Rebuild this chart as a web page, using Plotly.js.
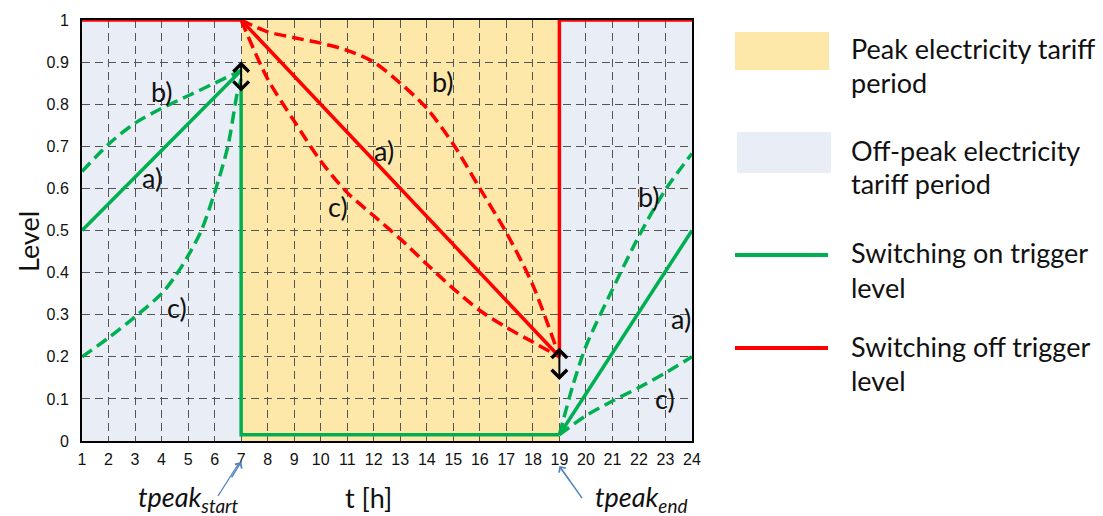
<!DOCTYPE html>
<html>
<head>
<meta charset="utf-8">
<script src="https://cdn.plot.ly/plotly-3.0.1.min.js"></script>
<style>html,body{margin:0;padding:0;background:#fff;}#chart{width:1103px;height:516px;}</style>
</head>
<body>
<div id="chart"></div>
<script>
// ---- tariff periods ----
const dayStart = 1, dayEnd = 24;
const peakStart = 7, peakEnd = 19;

// ---- switching ON trigger level (green) ----
const onA_x = [1, 7];
const onA_y = [0.50, 0.88];
const onB_x = [1, 2, 3, 4, 5, 6, 7];
const onB_y = [0.64, 0.705, 0.755, 0.79, 0.82, 0.85, 0.88];
const onC_x = [1, 2, 3, 4, 4.5, 5, 5.5, 6, 6.5, 6.85, 7];
const onC_y = [0.20, 0.245, 0.295, 0.35, 0.39, 0.44, 0.50, 0.59, 0.70, 0.825, 0.86];
const onStep_x = [7, 7, 19];
const onStep_y = [0.84, 0.015, 0.015];
const onAr_x = [19, 24];
const onAr_y = [0.015, 0.50];
const onBr_x = [19, 19.5, 20, 21, 22, 23, 24];
const onBr_y = [0.015, 0.13, 0.225, 0.36, 0.487, 0.597, 0.683];
const onCr_x = [19, 20, 21, 22, 23, 24];
const onCr_y = [0.015, 0.06, 0.095, 0.127, 0.162, 0.20];

// ---- switching OFF trigger level (red) ----
const offTop_x = [1, 7];
const offTop_y = [1, 1];
const offA_x = [7, 19];
const offA_y = [1, 0.20];
const offB_x = [7, 8, 9, 10, 11, 12, 13, 14, 15, 16, 17, 18, 19];
const offB_y = [1, 0.972, 0.958, 0.945, 0.928, 0.90, 0.85, 0.79, 0.705, 0.60, 0.495, 0.37, 0.20];
const offC_x = [7, 8, 9, 10, 11, 12, 13, 14, 15, 16, 17, 18, 19];
const offC_y = [1, 0.86, 0.76, 0.665, 0.59, 0.535, 0.48, 0.42, 0.362, 0.31, 0.27, 0.235, 0.20];
const offStep_x = [19, 19, 24];
const offStep_y = [0.20, 1, 1];

// ---- ticks ----
const xTicks = [1,2,3,4,5,6,7,8,9,10,11,12,13,14,15,16,17,18,19,20,21,22,23,24];
const yTicks = [0,0.1,0.2,0.3,0.4,0.5,0.6,0.7,0.8,0.9,1];
const yTickText = ['0','0.1','0.2','0.3','0.4','0.5','0.6','0.7','0.8','0.9','1'];

// ---- curve labels ----
const labelText = ['b)','a)','c)','b)','a)','c)','b)','a)','c)'];
const labelX = [4.03, 3.65, 4.6, 14.63, 12.37, 10.67, 22.36, 23.57, 23.0];
const labelY = [0.829, 0.625, 0.316, 0.853, 0.691, 0.556, 0.58, 0.292, 0.102];

const GREEN = '#00B050', RED = '#FF0000';
const YELLOW = '#FDE8AA', BLUE = '#E8EDF6';
const LW = 3.5;
const DASH = '12px,6px';

function tr(x, y, color, dash, spline) {
  return {x: x, y: y, type: 'scatter', mode: 'lines', hoverinfo: 'skip', showlegend: false,
    cliponaxis: false,
    line: {color: color, width: LW, dash: dash || 'solid', shape: spline ? 'spline' : 'linear', smoothing: 0.8}};
}

const data = [
  tr(onB_x, onB_y, GREEN, DASH, true),
  tr(onC_x, onC_y, GREEN, DASH, true),
  tr(onA_x, onA_y, GREEN),
  tr(onStep_x, onStep_y, GREEN),
  tr(onBr_x, onBr_y, GREEN, DASH, true),
  tr(onCr_x, onCr_y, GREEN, DASH, true),
  tr(onAr_x, onAr_y, GREEN),
  tr(offB_x, offB_y, RED, DASH, true),
  tr(offC_x, offC_y, RED, DASH, true),
  tr(offA_x, offA_y, RED),
  tr(offTop_x, offTop_y, RED),
  tr(offStep_x, offStep_y, RED)
];

// plot area in pixels: left 82, right 692, top 20, bottom 441
const PL = 82, PR = 692, PT = 20, PB = 441;
const px2x = p => (p - PL) / (PR - PL);
const px2y = p => (PB - p) / (PB - PT);

const shapes = [
  {type: 'rect', xref: 'x', yref: 'y', x0: dayStart, x1: peakStart, y0: 0, y1: 1, fillcolor: BLUE, line: {width: 0}, layer: 'below'},
  {type: 'rect', xref: 'x', yref: 'y', x0: peakStart, x1: peakEnd, y0: 0, y1: 1, fillcolor: YELLOW, line: {width: 0}, layer: 'below'},
  {type: 'rect', xref: 'x', yref: 'y', x0: peakEnd, x1: dayEnd, y0: 0, y1: 1, fillcolor: BLUE, line: {width: 0}, layer: 'below'},
  // legend swatches
  {type: 'rect', xref: 'paper', yref: 'paper', x0: px2x(735), x1: px2x(829), y0: px2y(70), y1: px2y(32), fillcolor: YELLOW, line: {width: 0}},
  {type: 'rect', xref: 'paper', yref: 'paper', x0: px2x(737), x1: px2x(831), y0: px2y(173), y1: px2y(132), fillcolor: BLUE, line: {width: 0}},
  {type: 'line', xref: 'paper', yref: 'paper', x0: px2x(735), x1: px2x(828), y0: px2y(255), y1: px2y(255), line: {color: GREEN, width: 4}},
  {type: 'line', xref: 'paper', yref: 'paper', x0: px2x(735), x1: px2x(828), y0: px2y(348), y1: px2y(348), line: {color: RED, width: 4}},
  // blue pointer shafts to tpeak labels
  {type: 'line', xref: 'paper', yref: 'paper', x0: px2x(218), y0: px2y(496), x1: px2x(239), y1: px2y(463), line: {color: '#4F81BD', width: 1.3}},
  {type: 'line', xref: 'paper', yref: 'paper', x0: px2x(582), y0: px2y(498), x1: px2x(560), y1: px2y(467), line: {color: '#4F81BD', width: 1.3}}
];

const FONT = 'Lato, "Open Sans", sans-serif';
const annotations = [];
for (let i = 0; i < labelText.length; i++) {
  annotations.push({x: labelX[i], y: labelY[i], xref: 'x', yref: 'y', text: labelText[i], showarrow: false,
    font: {family: FONT, size: 27, color: '#111'}});
}
const legendLines = [
  ['Peak electricity tariff', 48], ['period', 82],
  ['Off-peak electricity', 150], ['tariff period', 184],
  ['Switching on trigger', 252], ['level', 287],
  ['Switching off trigger', 346], ['level', 380]
];
legendLines.forEach(l => annotations.push({xref: 'paper', yref: 'paper', x: px2x(849), y: px2y(l[1]),
  xanchor: 'left', yanchor: 'middle', text: l[0], showarrow: false, font: {family: FONT, size: 27, color: '#111'}}));

// double-headed black arrows
annotations.push({xref: 'x', yref: 'y', axref: 'x', ayref: 'y', x: peakStart, y: 0.83, ax: peakStart, ay: 0.925,
  text: ' ', showarrow: true, arrowside: 'end+start', arrowhead: 4, startarrowhead: 4, arrowsize: 1.5, startarrowsize: 1.5, arrowwidth: 2, arrowcolor: '#000'});
annotations.push({xref: 'x', yref: 'y', axref: 'x', ayref: 'y', x: peakEnd, y: 0.145, ax: peakEnd, ay: 0.245,
  text: ' ', showarrow: true, arrowside: 'end+start', arrowhead: 4, startarrowhead: 4, arrowsize: 1.5, startarrowsize: 1.5, arrowwidth: 2, arrowcolor: '#000'});

// blue arrow heads at tpeak ticks
annotations.push({xref: 'x', yref: 'paper', x: peakStart, y: px2y(462), ax: -13, ay: 21, text: ' ', showarrow: true,
  arrowhead: 4, arrowsize: 1.2, arrowwidth: 1.3, arrowcolor: '#4F81BD'});
annotations.push({xref: 'x', yref: 'paper', x: peakEnd, y: px2y(466), ax: 14, ay: 20, text: ' ', showarrow: true,
  arrowhead: 4, arrowsize: 1.2, arrowwidth: 1.3, arrowcolor: '#4F81BD'});

annotations.push({xref: 'paper', yref: 'paper', x: px2x(136), y: px2y(498), xanchor: 'left', yanchor: 'middle',
  text: '<i>tpeak<sub>start</sub></i>', showarrow: false, font: {family: FONT, size: 27, color: '#111'}});
annotations.push({xref: 'paper', yref: 'paper', x: px2x(593), y: px2y(498), xanchor: 'left', yanchor: 'middle',
  text: '<i>tpeak<sub>end</sub></i>', showarrow: false, font: {family: FONT, size: 27, color: '#111'}});
annotations.push({xref: 'paper', yref: 'paper', x: px2x(368), y: px2y(497), xanchor: 'center', yanchor: 'middle',
  text: 't [h]', showarrow: false, font: {family: FONT, size: 27, color: '#111'}});
annotations.push({xref: 'paper', yref: 'paper', x: px2x(28), y: px2y(242), xanchor: 'center', yanchor: 'middle',
  text: 'Level', textangle: -90, showarrow: false, font: {family: FONT, size: 27, color: '#111'}});

const layout = {
  width: 1103, height: 516,
  margin: {l: PL, r: 1103 - PR, t: PT, b: 516 - PB, pad: 0},
  paper_bgcolor: '#fff', plot_bgcolor: '#fff',
  showlegend: false,
  font: {family: 'Arial, "Liberation Sans", sans-serif', size: 16, color: '#111'},
  xaxis: {range: [dayStart, dayEnd], tickvals: xTicks, ticktext: xTicks.map(String), showgrid: true,
    gridcolor: '#555', gridwidth: 1, griddash: '8px,5px', zeroline: false, showline: true, linecolor: '#000',
    linewidth: 2, mirror: true, ticks: '', ticklabelstandoff: 3, tickfont: {size: 16}, fixedrange: true},
  yaxis: {range: [0, 1], tickvals: yTicks, ticktext: yTickText, showgrid: true,
    gridcolor: '#555', gridwidth: 1, griddash: '8px,5px', zeroline: false, showline: true, linecolor: '#000',
    linewidth: 2, mirror: true, ticks: '', ticklabelstandoff: 8, tickfont: {size: 16}, fixedrange: true},
  shapes: shapes,
  annotations: annotations
};

Plotly.newPlot('chart', data, layout, {staticPlot: true, displayModeBar: false});
</script>
</body>
</html>
